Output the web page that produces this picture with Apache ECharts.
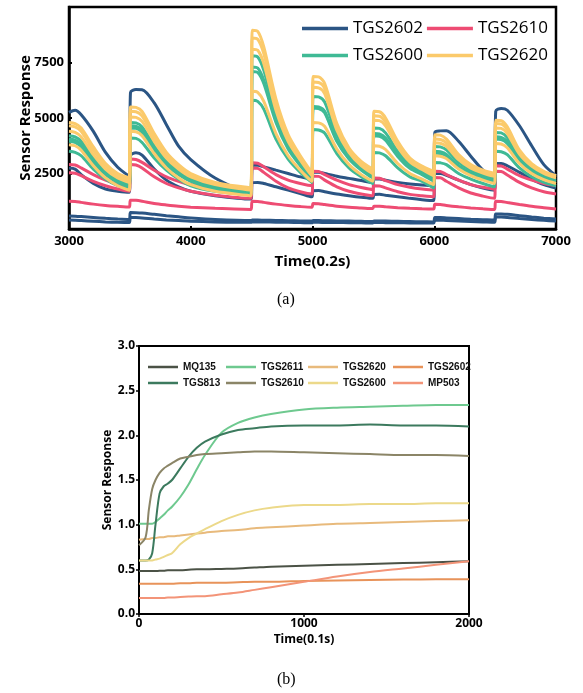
<!DOCTYPE html>
<html>
<head>
<meta charset="utf-8">
<script src="https://cdn.jsdelivr.net/npm/echarts@6/dist/echarts.min.js"></script>
<style>
  html, body { margin: 0; padding: 0; background: #fff; }
  #chart { width: 583px; height: 693px; }
</style>
</head>
<body>
<div id="chart"></div>
<script>
// ---- panel (a): time axis in 0.2 s, one row per run ----
const timeA = [
  3000, 3050, 3100, 3200, 3300, 3400, 3495,
  3505, 3550, 3600, 3700, 3800, 3900, 4000, 4200, 4495,
  4505, 4550, 4600, 4700, 4800, 4900, 4995,
  5005, 5050, 5100, 5200, 5300, 5400, 5495,
  5505, 5550, 5600, 5700, 5800, 5900, 5995,
  6005, 6050, 6100, 6200, 6300, 6400, 6495,
  6505, 6550, 6600, 6700, 6800, 6900, 7000
];

const tgs2602Runs = [
  [5250, 5350, 5150, 4400, 3450, 2780, 2380,
   6150, 6280, 6270, 5680, 4700, 3730, 3130, 2300, 1550,
   2850, 2870, 2800, 2650, 2500, 2350, 2250,
   2550, 2560, 2500, 2380, 2280, 2180, 2100,
   2250, 2250, 2200, 2100, 2030, 1980, 1950,
   4350, 4420, 4430, 3950, 3280, 2650, 2300,
   5300, 5430, 5350, 4650, 3750, 2900, 2400],
  [2750, 2700, 2450, 2050, 1800, 1700, 1650,
   3300, 3430, 3330, 2700, 2200, 1900, 1700, 1500, 1350,
   2080, 2100, 2050, 1900, 1750, 1600, 1450,
   1720, 1730, 1680, 1580, 1500, 1430, 1380,
   1550, 1560, 1520, 1450, 1380, 1320, 1280,
   2500, 2500, 2420, 2200, 2000, 1850, 1750,
   2950, 2950, 2850, 2550, 2250, 2000, 1850],
  [580, 575, 560, 520, 480, 450, 430,
   740, 735, 720, 660, 600, 550, 500, 430, 380,
   400, 400, 395, 385, 375, 365, 355,
   380, 380, 375, 365, 355, 345, 335,
   360, 360, 355, 345, 335, 325, 320,
   520, 515, 500, 470, 440, 420, 400,
   680, 675, 660, 600, 540, 490, 450],
  [400, 395, 380, 350, 320, 300, 290,
   520, 515, 500, 450, 410, 380, 350, 320, 300,
   320, 320, 315, 305, 300, 290, 280,
   300, 300, 295, 290, 285, 280, 270,
   290, 290, 285, 280, 275, 270, 265,
   400, 395, 385, 360, 340, 320, 300,
   540, 535, 520, 470, 430, 390, 360]
];

const tgs2610Runs = [
  [2900, 2880, 2750, 2450, 2200, 2020, 1900,
   3150, 3130, 3000, 2650, 2350, 2150, 2000, 1850, 1700,
   2980, 2960, 2800, 2450, 2200, 2050, 1950,
   2600, 2590, 2450, 2200, 2000, 1870, 1780,
   2300, 2290, 2180, 2000, 1880, 1800, 1750,
   2600, 2590, 2450, 2200, 2000, 1880, 1800,
   2850, 2840, 2700, 2400, 2200, 2050, 1950],
  [2530, 2510, 2400, 2150, 1950, 1800, 1700,
   2900, 2880, 2750, 2350, 2050, 1850, 1700, 1520, 1380,
   2750, 2730, 2550, 2150, 1850, 1680, 1580,
   2380, 2370, 2200, 1900, 1700, 1580, 1500,
   1950, 1940, 1850, 1680, 1560, 1500, 1450,
   2320, 2310, 2150, 1850, 1620, 1480, 1380,
   2600, 2590, 2430, 2100, 1850, 1680, 1580],
  [1250, 1240, 1200, 1120, 1060, 1020, 990,
   1300, 1290, 1250, 1150, 1080, 1020, 980, 930, 880,
   1250, 1240, 1200, 1120, 1060, 1010, 980,
   1150, 1140, 1100, 1030, 980, 950, 920,
   1030, 1025, 1000, 960, 930, 910, 900,
   1110, 1100, 1060, 1000, 950, 910, 880,
   1250, 1240, 1190, 1100, 1020, 960, 900]
];

const tgs2600Runs = [
  [4200, 4150, 3950, 3200, 2600, 2200, 2050,
   4800, 4780, 4600, 3750, 3050, 2600, 2250, 1900, 1700,
   7800, 7750, 7150, 5150, 3850, 3000, 2350,
   5970, 5950, 5720, 4250, 3350, 2800, 2450,
   4550, 4530, 4330, 3500, 2900, 2580, 2300,
   3720, 3700, 3570, 3000, 2650, 2440, 2300,
   4350, 4330, 4120, 3250, 2750, 2420, 2230],
  [4050, 4000, 3800, 3100, 2500, 2150, 2000,
   4650, 4630, 4450, 3650, 2950, 2500, 2200, 1850, 1650,
   7300, 7250, 6700, 4900, 3700, 2900, 2300,
   5520, 5500, 5300, 4000, 3200, 2700, 2350,
   4300, 4280, 4100, 3330, 2780, 2500, 2200,
   3500, 3480, 3360, 2850, 2530, 2340, 2200,
   4150, 4130, 3940, 3130, 2650, 2350, 2160],
  [3950, 3900, 3700, 3000, 2450, 2100, 1950,
   4550, 4530, 4350, 3550, 2900, 2450, 2150, 1800, 1600,
   7100, 7050, 6550, 4800, 3600, 2850, 2250,
   5450, 5430, 5230, 3950, 3150, 2650, 2300,
   4200, 4180, 4000, 3270, 2730, 2450, 2150,
   3420, 3400, 3290, 2800, 2480, 2290, 2150,
   4050, 4030, 3850, 3070, 2600, 2300, 2120],
  [3500, 3450, 3300, 2700, 2250, 1950, 1850,
   4100, 4080, 3900, 3200, 2650, 2250, 1950, 1700, 1550,
   5800, 5750, 5400, 4050, 3150, 2550, 2100,
   4480, 4460, 4320, 3400, 2750, 2350, 2050,
   3450, 3430, 3300, 2750, 2350, 2150, 1850,
   3000, 2980, 2900, 2500, 2250, 2050, 1900,
   3500, 3480, 3350, 2750, 2350, 2100, 1950]
];

const tgs2620Runs = [
  [4800, 4750, 4550, 3700, 2950, 2500, 2300,
   5500, 5480, 5300, 4300, 3450, 2900, 2500, 2100, 1850,
   8950, 8900, 8200, 5850, 4250, 3300, 2550,
   6870, 6850, 6550, 4750, 3650, 3050, 2700,
   5300, 5280, 5000, 3950, 3200, 2830, 2600,
   4250, 4230, 4050, 3350, 2900, 2650, 2500,
   4900, 4880, 4600, 3550, 2950, 2600, 2400],
  [4650, 4600, 4400, 3550, 2850, 2400, 2200,
   5300, 5280, 5100, 4150, 3350, 2800, 2450, 2050, 1800,
   8600, 8550, 7900, 5650, 4100, 3200, 2450,
   6620, 6600, 6330, 4600, 3550, 2950, 2600,
   5100, 5080, 4820, 3820, 3100, 2750, 2500,
   4050, 4030, 3880, 3230, 2820, 2580, 2440,
   4750, 4730, 4470, 3470, 2900, 2550, 2350],
  [4400, 4350, 4150, 3350, 2700, 2300, 2100,
   5050, 5030, 4850, 3950, 3200, 2700, 2350, 2000, 1750,
   8100, 8050, 7450, 5350, 3950, 3100, 2400,
   6380, 6360, 6100, 4450, 3450, 2850, 2500,
   4900, 4880, 4650, 3700, 3020, 2680, 2400,
   3880, 3860, 3720, 3120, 2740, 2520, 2380,
   4550, 4530, 4300, 3370, 2830, 2500, 2300],
  [3800, 3750, 3550, 2850, 2300, 1950, 1750,
   4400, 4380, 4200, 3400, 2750, 2300, 2000, 1700, 1500,
   6200, 6150, 5750, 4300, 3300, 2650, 2150,
   4800, 4780, 4620, 3600, 2900, 2450, 2150,
   3750, 3730, 3580, 2950, 2500, 2250, 2000,
   3300, 3280, 3170, 2700, 2400, 2200, 2050,
   3850, 3830, 3660, 2950, 2500, 2220, 2050]
];

// ---- panel (b): time axis in 0.1 s ----
const timeB = [0, 40, 60, 80, 100, 125, 150, 175, 200, 250, 300, 350, 400,
  500, 600, 700, 800, 1000, 1200, 1400, 1600, 1800, 2000];

const mq135   = [0.48, 0.48, 0.48, 0.48, 0.48, 0.485, 0.485, 0.49, 0.49, 0.49, 0.495, 0.50, 0.50,
  0.505, 0.51, 0.52, 0.53, 0.54, 0.55, 0.56, 0.57, 0.58, 0.59];
const tgs813  = [0.60, 0.60, 0.61, 0.68, 1.00, 1.35, 1.43, 1.46, 1.50, 1.63, 1.76, 1.86, 1.93,
  2.01, 2.06, 2.08, 2.10, 2.11, 2.11, 2.12, 2.11, 2.11, 2.10];
const tgs2611 = [1.01, 1.01, 1.01, 1.01, 1.03, 1.07, 1.11, 1.16, 1.20, 1.31, 1.45, 1.62, 1.78,
  2.03, 2.14, 2.20, 2.24, 2.29, 2.31, 2.32, 2.33, 2.34, 2.34];
const tgs2610 = [0.77, 0.86, 1.17, 1.40, 1.50, 1.58, 1.63, 1.66, 1.69, 1.74, 1.76, 1.78, 1.79,
  1.80, 1.81, 1.82, 1.82, 1.81, 1.80, 1.79, 1.78, 1.78, 1.77];
const tgs2620 = [0.83, 0.84, 0.84, 0.85, 0.85, 0.86, 0.86, 0.87, 0.87, 0.88, 0.89, 0.90, 0.91,
  0.93, 0.94, 0.96, 0.97, 0.99, 1.01, 1.02, 1.03, 1.04, 1.05];
const tgs2600 = [0.60, 0.60, 0.60, 0.60, 0.61, 0.62, 0.64, 0.66, 0.68, 0.78, 0.85, 0.90, 0.95,
  1.04, 1.11, 1.16, 1.19, 1.22, 1.22, 1.23, 1.23, 1.24, 1.24];
const tgs2602 = [0.34, 0.34, 0.34, 0.34, 0.34, 0.34, 0.34, 0.34, 0.34, 0.345, 0.345, 0.35, 0.35,
  0.35, 0.355, 0.36, 0.36, 0.37, 0.375, 0.38, 0.385, 0.39, 0.39];
const mp503   = [0.18, 0.18, 0.18, 0.18, 0.18, 0.18, 0.18, 0.185, 0.185, 0.19, 0.195, 0.20, 0.20,
  0.22, 0.24, 0.27, 0.30, 0.36, 0.42, 0.47, 0.51, 0.55, 0.59];

const topColors = { TGS2602: "#2b5584", TGS2610: "#ee4c73", TGS2600: "#3fba95", TGS2620: "#fbca6b" };

const bottomSet = [
  ["MQ135", mq135, "#4b5246"],
  ["TGS2611", tgs2611, "#6ec98f"],
  ["TGS2620", tgs2620, "#e8ba7c"],
  ["TGS2602", tgs2602, "#e8935a"],
  ["TGS813", tgs813, "#3c7a5e"],
  ["TGS2610", tgs2610, "#8b8567"],
  ["TGS2600", tgs2600, "#ecd98a"],
  ["MP503", mp503, "#f39478"],
];

function topSeries(name, runs) {
  const c = topColors[name];
  return runs.map((run) => ({
    type: "line",
    name: name,
    xAxisIndex: 0,
    yAxisIndex: 0,
    data: timeA.map((t, i) => [t, run[i]]),
    showSymbol: false,
    smooth: 0.3,
    lineStyle: { width: 3, color: c },
    itemStyle: { color: c },
  }));
}

// bottom names get a trailing space so they don't collide with panel (a) legend names
const bottomSeries = bottomSet.map(([name, vals, c]) => ({
  type: "line",
  name: name + " ",
  xAxisIndex: 1,
  yAxisIndex: 1,
  data: timeB.map((t, i) => [t, vals[i]]),
  showSymbol: false,
  smooth: 0.3,
  lineStyle: { width: 2, color: c },
  itemStyle: { color: c },
}));

const bold = (size) => ({ color: "#000", fontWeight: "bold", fontSize: size, fontFamily: "Open Sans" });
const plain = (v) => String(v);

const bottomLegend = (left, names) => ({
  left: left,
  top: 357,
  orient: "vertical",
  itemGap: 6,
  itemWidth: 30,
  itemHeight: 2.5,
  icon: "rect",
  data: names.map((n) => n + " "),
  formatter: (n) => n.trim(),
  textStyle: { color: "#111", fontWeight: "bold", fontSize: 10, fontFamily: "Liberation Sans" },
});

const chart = echarts.init(document.getElementById("chart"));

chart.setOption({
  animation: false,
  backgroundColor: "#fff",
  title: [
    { text: "(a)", left: 272, top: 287, textStyle: { fontFamily: "Liberation Serif", fontWeight: "normal", fontSize: 16, color: "#000" } },
    { text: "(b)", left: 272, top: 667, textStyle: { fontFamily: "Liberation Serif", fontWeight: "normal", fontSize: 16, color: "#000" } },
  ],
  legend: [
    {
      left: 297, top: 15, itemWidth: 46, itemHeight: 3.5, itemGap: 4, icon: "rect",
      data: ["TGS2602", "TGS2610"],
      textStyle: { color: "#000", fontSize: 17, fontFamily: "Open Sans" },
    },
    {
      left: 297, top: 42, itemWidth: 46, itemHeight: 3.5, itemGap: 4, icon: "rect",
      data: ["TGS2600", "TGS2620"],
      textStyle: { color: "#000", fontSize: 17, fontFamily: "Open Sans" },
    },
    bottomLegend(143, ["MQ135", "TGS813"]),
    bottomLegend(221, ["TGS2611", "TGS2610"]),
    bottomLegend(303, ["TGS2620", "TGS2600"]),
    bottomLegend(388, ["TGS2602", "MP503"]),
  ],
  grid: [
    { left: 69, top: 7, width: 487, height: 222, show: true, borderColor: "#000", borderWidth: 2.5 },
    { left: 139, top: 346, width: 330, height: 268, show: true, borderColor: "#000", borderWidth: 2 },
  ],
  xAxis: [
    {
      gridIndex: 0, type: "value", min: 3000, max: 7000, interval: 1000,
      name: "Time(0.2s)", nameLocation: "middle", nameGap: 25, nameMoveOverlap: false, nameTextStyle: bold(15),
      axisLine: { lineStyle: { color: "#000", width: 2.5 } },
      axisTick: { inside: true, length: 3, lineStyle: { color: "#000", width: 2 } },
      axisLabel: Object.assign({ margin: 6, formatter: plain }, bold(13)),
      splitLine: { show: false },
    },
    {
      gridIndex: 1, type: "value", min: 0, max: 2000, interval: 1000,
      name: "Time(0.1s)", nameLocation: "middle", nameGap: 20, nameMoveOverlap: false, nameTextStyle: bold(12),
      axisLine: { lineStyle: { color: "#000", width: 2 } },
      axisTick: { length: 3, lineStyle: { color: "#000", width: 1.5 } },
      axisLabel: Object.assign({ margin: 4, formatter: plain }, bold(12)),
      splitLine: { show: false },
    },
  ],
  yAxis: [
    {
      gridIndex: 0, type: "value", min: 0, max: 10000, interval: 2500,
      name: "Sensor Response", nameLocation: "middle", nameGap: 36, nameMoveOverlap: false, nameTextStyle: bold(15),
      axisLine: { lineStyle: { color: "#000", width: 2.5 } },
      axisTick: { inside: true, length: 3, lineStyle: { color: "#000", width: 2 } },
      axisLabel: Object.assign({ margin: 5, showMinLabel: false, showMaxLabel: false, formatter: plain }, bold(13)),
      splitLine: { show: false },
    },
    {
      gridIndex: 1, type: "value", min: 0, max: 3, interval: 0.5,
      name: "Sensor Response", nameLocation: "middle", nameGap: 25, nameMoveOverlap: false, nameTextStyle: bold(12),
      axisLine: { lineStyle: { color: "#000", width: 2 } },
      axisTick: { length: 3, lineStyle: { color: "#000", width: 1.5 } },
      axisLabel: Object.assign({ margin: 4, formatter: (v) => v.toFixed(1) }, bold(12)),
      splitLine: { show: false },
    },
  ],
  series: [
    ...topSeries("TGS2602", tgs2602Runs),
    ...topSeries("TGS2610", tgs2610Runs),
    ...topSeries("TGS2600", tgs2600Runs),
    ...topSeries("TGS2620", tgs2620Runs),
    ...bottomSeries,
  ],
});

window.addEventListener("resize", () => chart.resize());
</script>
</body>
</html>
